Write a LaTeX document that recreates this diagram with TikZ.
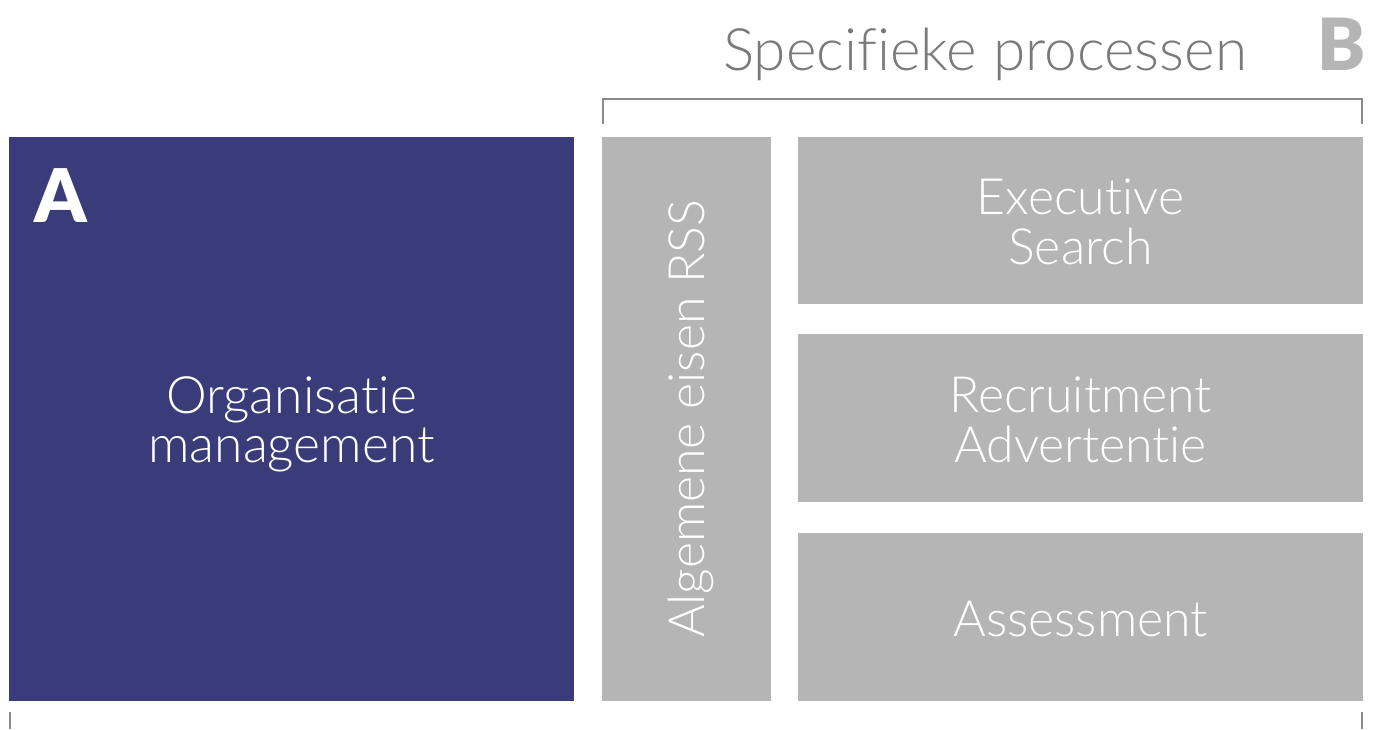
\documentclass[tikz,border=0pt]{standalone}
\usepackage{fontspec}
\setmainfont{Lato}
\newfontfamily\lightfont[Ligatures={NoCommon,NoRare,NoDiscretionary},Contextuals=NoAlternate]{Lato Light}
\newfontfamily\heavyfont{Lato Black}
\definecolor{navy}{HTML}{3A3C7A}
\definecolor{boxgray}{HTML}{B5B5B5}
\definecolor{titlegray}{HTML}{7A7A7A}
\definecolor{linegray}{HTML}{8A8A8A}
\begin{document}
\begin{tikzpicture}[x=1pt,y=-1pt,
  blk/.style={fill=#1,draw=none},
  lbl/.style={text=white,font=\lightfont\fontsize{50}{50}\selectfont,align=center,inner sep=0pt},
  brk/.style={draw=linegray,line width=2pt}]
\useasboundingbox (0,0) rectangle (1373,729);
% boxes
\path[blk=navy] (9,137) rectangle (574,701);
\path[blk=boxgray] (602,137) rectangle (771,701);
\path[blk=boxgray] (798,137) rectangle (1363,304);
\path[blk=boxgray] (798,334) rectangle (1363,502);
\path[blk=boxgray] (798,533) rectangle (1363,701);
% labels
\node[lbl,anchor=base,font=\lightfont\fontsize{51.5}{51.5}\selectfont] (org1) at (291.5,413) {Organisatie};
\node[lbl,anchor=base,font=\lightfont\fontsize{51.5}{51.5}\selectfont] (org2) at (291.5,462) {management};
\node[lbl,anchor=base] (es1) at (1080.5,214) {Executive};
\node[lbl,anchor=base] (es2) at (1080.5,264) {Search};
\node[lbl,anchor=base] (ra1) at (1080.5,412) {Recruitment};
\node[lbl,anchor=base] (ra2) at (1080.5,462) {Advertentie};
\node[lbl,anchor=base] (as1) at (1080.5,636) {Assessment};
\node[lbl,anchor=base,rotate=90,font=\lightfont\fontsize{50}{50}\selectfont] (rss) at (704,419) {Algemene eisen RSS};
% letters
\node[text=white,font=\heavyfont\fontsize{74}{74}\selectfont,anchor=base west,inner sep=0pt] (A) at (34,222) {A};
\node[text=boxgray,font=\heavyfont\fontsize{72}{72}\selectfont,anchor=base east,inner sep=0pt] (B) at (1366,70) {B};
% title
\node[text=titlegray,font=\lightfont\fontsize{58.5}{58.5}\selectfont,anchor=base,inner sep=0pt] (title) at (985,70) {Specifieke processen};
% bracket
\coordinate (bl) at (603,124);
\coordinate (br) at (1362,124);
\draw[brk] (bl) |- (1362,99) -- (br);
% bottom ticks
\coordinate (t1a) at (10,712); \coordinate (t1b) at (10,729);
\coordinate (t2a) at (1362,712); \coordinate (t2b) at (1362,729);
\draw[brk] (t1a) -- (t1b);
\draw[brk] (t2a) -- (t2b);
\end{tikzpicture}
\end{document}
